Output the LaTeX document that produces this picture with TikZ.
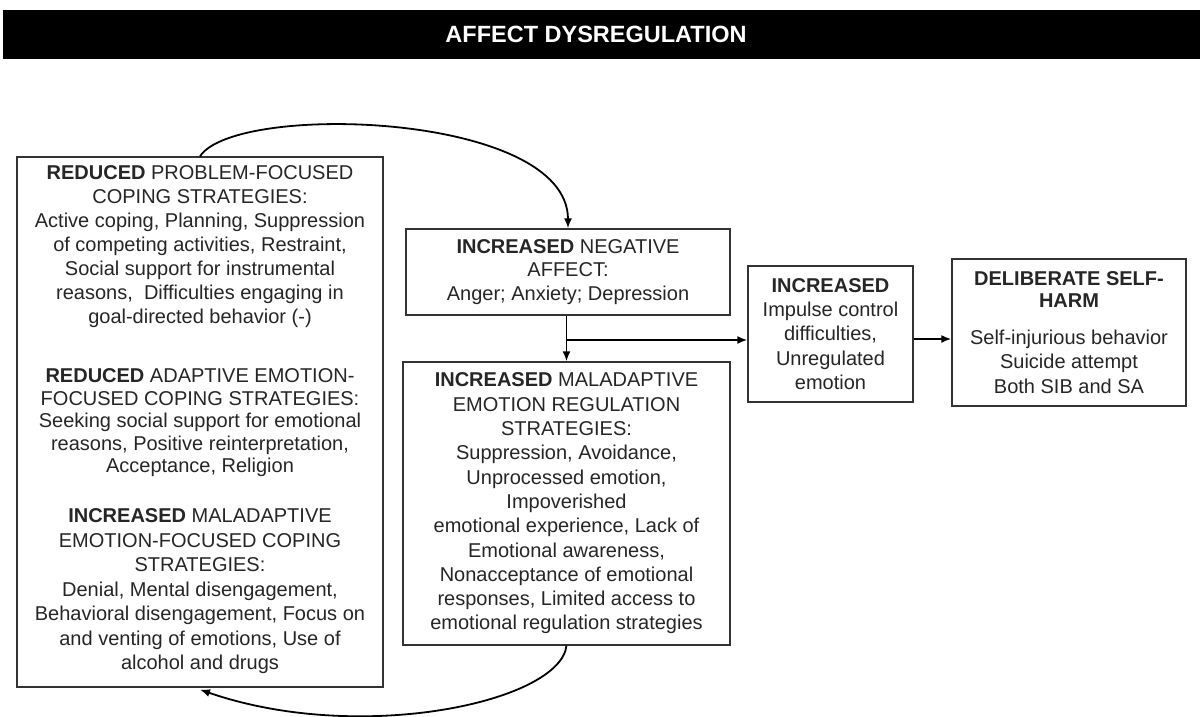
\documentclass[tikz,border=0pt]{standalone}
\usepackage{fontspec}
\setmainfont{Liberation Sans}
\usetikzlibrary{arrows.meta}
\tikzset{
  boxnode/.style={draw=black!80, line width=1.3pt, fill=white, inner sep=0pt, align=center, text=black!85},
  txt/.style={align=center, inner sep=0pt, text=black!85, font=\fontsize{20}{24}\selectfont},
  arr/.style={line width=1.8pt, black, -{Latex[length=10pt,width=8pt]}},
}
\begin{document}
\begin{tikzpicture}[x=1pt,y=-1pt]
\useasboundingbox (0,0) rectangle (1203,717);
% title bar
\node[fill=black, minimum width=1197pt, minimum height=49pt, inner sep=0pt, text=white,
      font=\fontsize{23.5}{26}\selectfont\bfseries] (title) at (601.5,34.5) {\hspace{-11pt}AFFECT DYSREGULATION};
% left box
\node[boxnode, minimum width=366pt, minimum height=530pt] (left) at (200,422) {};
\node[txt] (l1) at (200,246.5) {\textbf{REDUCED} PROBLEM-FOCUSED\\COPING STRATEGIES:\\Active coping, Planning, Suppression\\of competing activities, Restraint,\\Social support for instrumental\\reasons,\ \ Difficulties engaging in\\goal-directed behavior (-)};
\node[txt, font=\fontsize{20}{22.5}\selectfont] (l2) at (200,423) {\textbf{REDUCED} ADAPTIVE EMOTION-\\FOCUSED COPING STRATEGIES:\\Seeking social support for emotional\\reasons, Positive reinterpretation,\\Acceptance, Religion};
\node[txt, font=\fontsize{20}{24.5}\selectfont] (l3) at (200,591.5) {\textbf{INCREASED} MALADAPTIVE\\EMOTION-FOCUSED COPING\\STRATEGIES:\\Denial, Mental disengagement,\\Behavioral disengagement, Focus on\\and venting of emotions, Use of\\alcohol and drugs};
% negative affect
\node[boxnode, minimum width=324pt, minimum height=86pt, font=\fontsize{20}{23.5}\selectfont] (neg) at (568,272)
  {\textbf{INCREASED} NEGATIVE\\AFFECT:\\Anger; Anxiety; Depression};
% maladaptive emotion regulation
\node[boxnode, minimum width=327pt, minimum height=283pt, font=\fontsize{20}{24.3}\selectfont] (er) at (566.5,503.5)
  {\textbf{INCREASED} MALADAPTIVE\\EMOTION REGULATION\\STRATEGIES:\\Suppression, Avoidance,\\Unprocessed emotion,\\Impoverished\\emotional experience, Lack of\\Emotional awareness,\\Nonacceptance of emotional\\responses, Limited access to\\emotional regulation strategies};
% increased impulse
\node[boxnode, minimum width=165pt, minimum height=136pt, font=\fontsize{20}{24.3}\selectfont] (inc) at (830.5,334)
  {\textbf{INCREASED}\\Impulse control\\difficulties,\\Unregulated\\emotion};
% deliberate self-harm
\node[boxnode, minimum width=234pt, minimum height=147pt, font=\fontsize{20}{24.5}\selectfont] (dsh) at (1069,332.5)
  {\textbf{DELIBERATE SELF-}\\[-2.5pt]\textbf{HARM}\\[12.5pt]Self-injurious behavior\\Suicide attempt\\Both SIB and SA};
% connectors
\coordinate (br) at (566.5,340);
\draw[arr] (er.north |- neg.south) -- (er.north);
\draw[arr] (br) -- (br -| inc.west);
\draw[arr] ([yshift=-5pt]inc.east) -- ([yshift=-5pt]inc.east -| dsh.west);
\draw[arr] (left.north) .. controls (235,102) and (568,112) .. (neg.north);
\draw[arr] (er.south) .. controls (560,702) and (360,745) .. ([yshift=-2pt]left.south);
\end{tikzpicture}
\end{document}
